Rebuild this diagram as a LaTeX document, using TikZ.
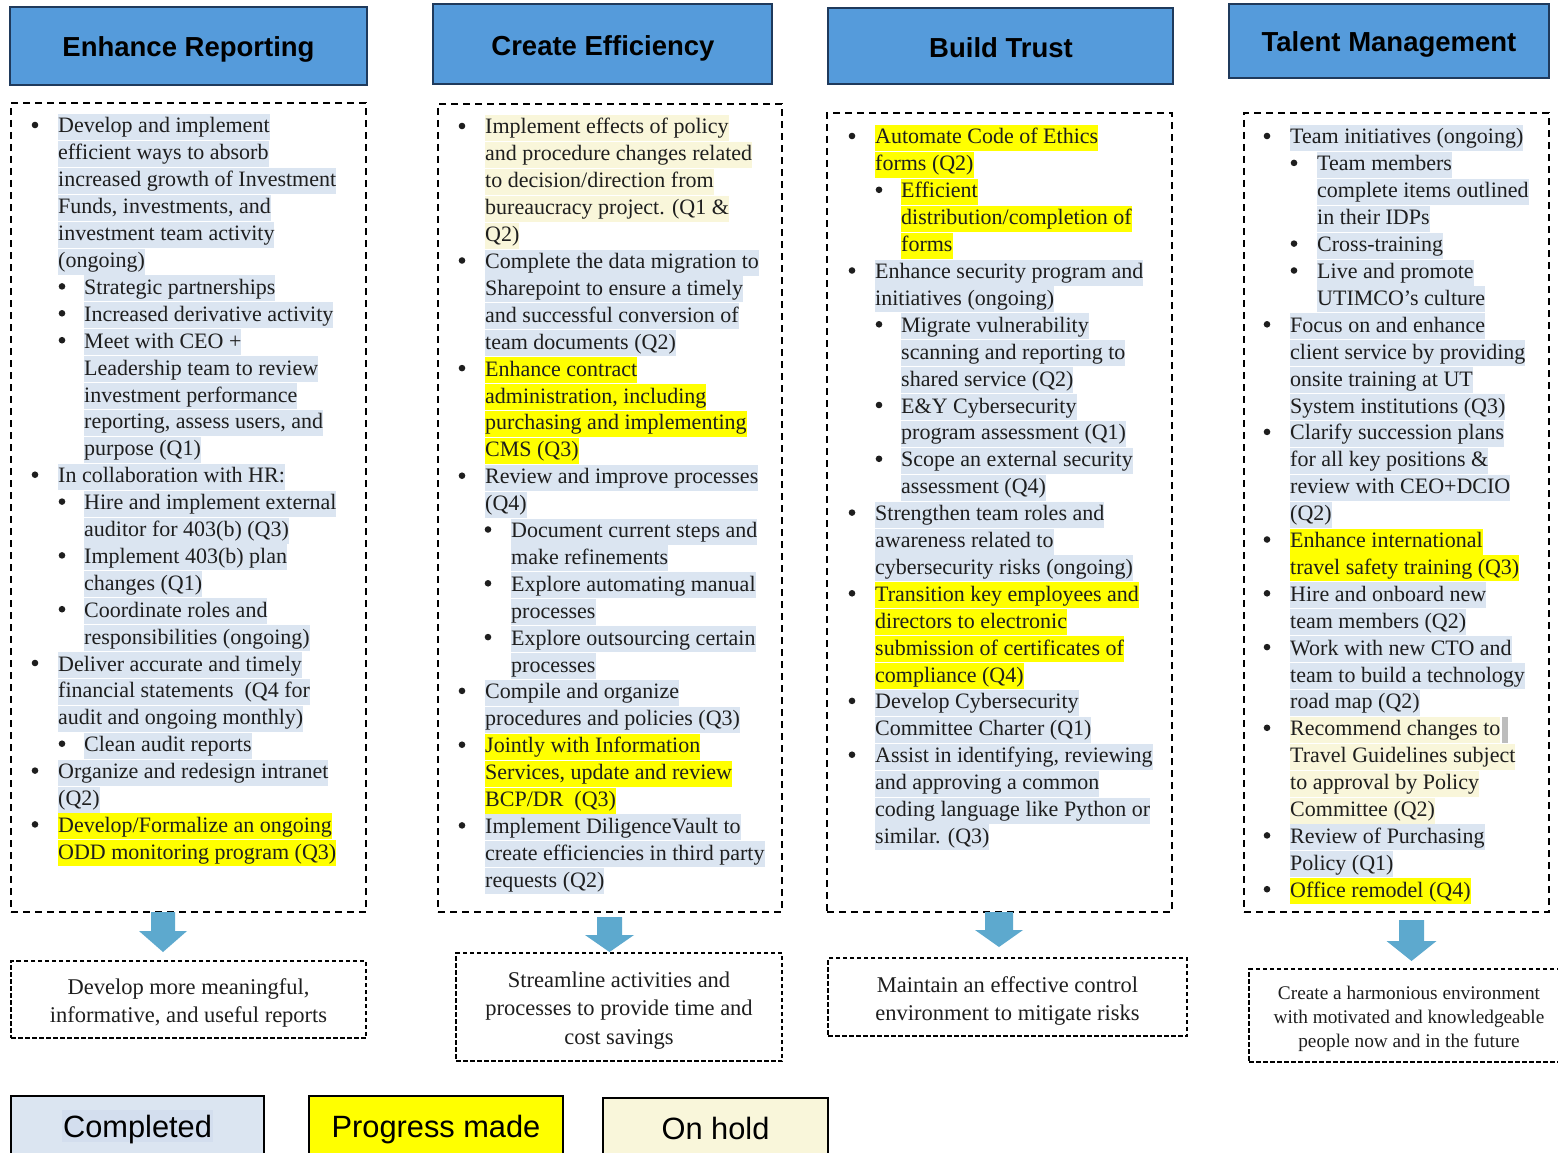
\documentclass[tikz,border=0pt]{standalone}
\usepackage{fontspec}
\setmainfont{Liberation Serif}
\setsansfont{Liberation Sans}
\definecolor{cdone}{HTML}{DBE5F1}
\definecolor{cprog}{HTML}{FFFF00}
\definecolor{chold}{HTML}{F9F6DA}
\definecolor{chdr}{HTML}{559BDB}
\definecolor{chdrb}{HTML}{1F3A5C}
\definecolor{carrow}{HTML}{5DA9CE}
\definecolor{ctext}{HTML}{1E1E1E}
\definecolor{cdonein}{HTML}{D3DEEE}
\definecolor{cgrayblk}{HTML}{BDBDBD}
\newcommand\LN[4]{\node[itemline,#1] (c\colid l#3) at (#2,{\cb+(#3-1)*26.9}) {#4};}
\newcommand\BU[2]{\fill[ctext] (#1,{\cb+(#2-1)*26.9-8}) circle (3.3pt);}
\newcommand\BA[6]{\fill[carrow] (#1-#5,#2) -- (#1+#5,#2) -- (#1+#5,#3) -- (#1+#6,#3) -- (#1,#4) -- (#1-#6,#3) -- (#1-#5,#3) -- cycle;}
\begin{document}
\begin{tikzpicture}[x=1pt,y=-1pt,
  itemline/.style={anchor=base west,inner xsep=0pt,inner ysep=0pt,text height=19pt,text depth=7pt,
     font=\fontsize{22}{26}\selectfont,text=ctext},
  done/.style={fill=cdone},
  prog/.style={fill=cprog},
  hold/.style={fill=chold},
  hdr/.style={draw=chdrb,line width=2.5pt,fill=chdr},
  hdrtext/.style={font=\sffamily\bfseries\fontsize{27.5}{30}\selectfont,text=black,text height=20pt,text depth=0pt,inner sep=0pt},
  dbox/.style={draw=black,line width=1.8pt,dash pattern=on 7pt off 5pt},
  obox/.style={draw=black,line width=1.4pt,dash pattern=on 4.5pt off 2.5pt},
  otext/.style={align=center,text=ctext,inner sep=0pt},
  lgbox/.style={draw=black,line width=1.5pt},
  lgtext/.style={font=\sffamily\fontsize{30.8}{34}\selectfont,text=black,text height=22pt,text depth=0pt}
]
\useasboundingbox (0,0) rectangle (1558,1153);
\clip (0,0) rectangle (1558,1153);
\fill[white] (0,0) rectangle (1558,1153);

% headers
\node[hdr,minimum width=357pt,minimum height=78pt] (h1) at (188.5,46) {};
\node[hdrtext] (h1t) at (188.5,47) {Enhance Reporting};
\node[hdr,minimum width=339pt,minimum height=80pt] (h2) at (602.5,44) {};
\node[hdrtext] (h2t) at (603,46) {Create Efficiency};
\node[hdr,minimum width=345pt,minimum height=76pt] (h3) at (1000.5,46) {};
\node[hdrtext] (h3t) at (1001,48) {Build Trust};
\node[hdr,minimum width=320pt,minimum height=74pt] (h4) at (1389,41) {};
\node[hdrtext] (h4t) at (1389,42) {Talent Management};

% dashed boxes
\node[dbox,minimum width=355pt,minimum height=809pt] (b1) at (188.5,507.5) {};
\node[dbox,minimum width=344pt,minimum height=808pt] (b2) at (610,508) {};
\node[dbox,minimum width=345pt,minimum height=799pt] (b3) at (999.5,512.5) {};
\node[dbox,minimum width=305pt,minimum height=799pt] (b4) at (1396.5,512.5) {};

% ---------------- column 1
\def\colid{1}\def\cb{133}
\BU{35}{1}\LN{done}{58}{1}{Develop and implement\ }
\LN{done}{58}{2}{efficient ways to absorb\ }
\LN{done}{58}{3}{increased growth of Investment\ }
\LN{done}{58}{4}{Funds, investments, and\ }
\LN{done}{58}{5}{investment team activity\ }
\LN{done}{58}{6}{(ongoing)}
\BU{62}{7}\LN{done}{84}{7}{Strategic partnerships}
\BU{62}{8}\LN{done}{84}{8}{Increased derivative activity}
\BU{62}{9}\LN{done}{84}{9}{Meet with CEO +\ }
\LN{done}{84}{10}{Leadership team to review\ }
\LN{done}{84}{11}{investment performance\ }
\LN{done}{84}{12}{reporting, assess users, and\ }
\LN{done}{84}{13}{purpose (Q1)}
\BU{35}{14}\LN{done}{58}{14}{In collaboration with HR:}
\BU{62}{15}\LN{done}{84}{15}{Hire and implement external}
\LN{done}{84}{16}{auditor for 403(b) (Q3)}
\BU{62}{17}\LN{done}{84}{17}{Implement 403(b) plan\ }
\LN{done}{84}{18}{changes (Q1)}
\BU{62}{19}\LN{done}{84}{19}{Coordinate roles and\ }
\LN{done}{84}{20}{responsibilities (ongoing)}
\BU{35}{21}\LN{done}{58}{21}{Deliver accurate and timely\ }
\LN{done}{58}{22}{financial statements\ \ (Q4 for\ }
\LN{done}{58}{23}{audit and ongoing monthly)}
\BU{62}{24}\LN{done}{84}{24}{Clean audit reports}
\BU{35}{25}\LN{done}{58}{25}{Organize and redesign intranet\ }
\LN{done}{58}{26}{(Q2)}
\BU{35}{27}\LN{prog}{58}{27}{Develop/Formalize an ongoing\ }
\LN{prog}{58}{28}{ODD monitoring program (Q3)}

% ---------------- column 2
\def\colid{2}\def\cb{134}
\BU{462}{1}\LN{hold}{485}{1}{Implement effects of policy\ }
\LN{hold}{485}{2}{and procedure changes related\ }
\LN{hold}{485}{3}{to decision/direction from\ }
\LN{hold}{485}{4}{bureaucracy project. (Q1 \&\ }
\LN{hold}{485}{5}{Q2)}
\BU{462}{6}\LN{done}{485}{6}{Complete the data migration to\ }
\LN{done}{485}{7}{Sharepoint to ensure a timely\ }
\LN{done}{485}{8}{and successful conversion of\ }
\LN{done}{485}{9}{team documents (Q2)}
\BU{462}{10}\LN{prog}{485}{10}{Enhance contract\ }
\LN{prog}{485}{11}{administration, including\ }
\LN{prog}{485}{12}{purchasing and implementing\ }
\LN{prog}{485}{13}{CMS (Q3)}
\BU{462}{14}\LN{done}{485}{14}{Review and improve processes\ }
\LN{done}{485}{15}{(Q4)}
\BU{488}{16}\LN{done}{511}{16}{Document current steps and\ }
\LN{done}{511}{17}{make refinements}
\BU{488}{18}\LN{done}{511}{18}{Explore automating manual\ }
\LN{done}{511}{19}{processes}
\BU{488}{20}\LN{done}{511}{20}{Explore outsourcing certain\ }
\LN{done}{511}{21}{processes}
\BU{462}{22}\LN{done}{485}{22}{Compile and organize\ }
\LN{done}{485}{23}{procedures and policies (Q3)}
\BU{462}{24}\LN{prog}{485}{24}{Jointly with Information\ }
\LN{prog}{485}{25}{Services, update and review\ }
\LN{prog}{485}{26}{BCP/DR\ \ (Q3)}
\BU{462}{27}\LN{done}{485}{27}{Implement DiligenceVault to\ }
\LN{done}{485}{28}{create efficiencies in third party}
\LN{done}{485}{29}{requests (Q2)}

% ---------------- column 3
\def\colid{3}\def\cb{144}
\BU{852}{1}\LN{prog}{875}{1}{Automate Code of Ethics\ }
\LN{prog}{875}{2}{forms (Q2)}
\BU{879}{3}\LN{prog}{901}{3}{Efficient\ }
\LN{prog}{901}{4}{distribution/completion of\ }
\LN{prog}{901}{5}{forms}
\BU{852}{6}\LN{done}{875}{6}{Enhance security program and\ }
\LN{done}{875}{7}{initiatives (ongoing)}
\BU{879}{8}\LN{done}{901}{8}{Migrate vulnerability\ }
\LN{done}{901}{9}{scanning and reporting to\ }
\LN{done}{901}{10}{shared service (Q2)}
\BU{879}{11}\LN{done}{901}{11}{E\&Y Cybersecurity\ }
\LN{done}{901}{12}{program assessment (Q1)}
\BU{879}{13}\LN{done}{901}{13}{Scope an external security\ }
\LN{done}{901}{14}{assessment (Q4)}
\BU{852}{15}\LN{done}{875}{15}{Strengthen team roles and\ }
\LN{done}{875}{16}{awareness related to\ }
\LN{done}{875}{17}{cybersecurity risks (ongoing)}
\BU{852}{18}\LN{prog}{875}{18}{Transition key employees and\ }
\LN{prog}{875}{19}{directors to electronic\ }
\LN{prog}{875}{20}{submission of certificates of\ }
\LN{prog}{875}{21}{compliance (Q4)}
\BU{852}{22}\LN{done}{875}{22}{Develop Cybersecurity\ }
\LN{done}{875}{23}{Committee Charter (Q1)}
\BU{852}{24}\LN{done}{875}{24}{Assist in identifying, reviewing\ }
\LN{done}{875}{25}{and approving a common\ }
\LN{done}{875}{26}{coding language like Python or\ }
\LN{done}{875}{27}{similar. (Q3)}

% ---------------- column 4
\def\colid{4}\def\cb{144}
\BU{1267}{1}\LN{done}{1290}{1}{Team initiatives (ongoing)}
\BU{1294}{2}\LN{done}{1317}{2}{Team members\ }
\LN{done}{1317}{3}{complete items outlined\ }
\LN{done}{1317}{4}{in their IDPs}
\BU{1294}{5}\LN{done}{1317}{5}{Cross-training}
\BU{1294}{6}\LN{done}{1317}{6}{Live and promote\ }
\LN{done}{1317}{7}{UTIMCO’s culture}
\BU{1267}{8}\LN{done}{1290}{8}{Focus on and enhance\ }
\LN{done}{1290}{9}{client service by providing\ }
\LN{done}{1290}{10}{onsite training at UT\ }
\LN{done}{1290}{11}{System institutions (Q3)}
\BU{1267}{12}\LN{done}{1290}{12}{Clarify succession plans\ }
\LN{done}{1290}{13}{for all key positions \&\ }
\LN{done}{1290}{14}{review with CEO+DCIO\ }
\LN{done}{1290}{15}{(Q2)}
\BU{1267}{16}\LN{prog}{1290}{16}{Enhance international\ }
\LN{prog}{1290}{17}{travel safety training (Q3)}
\BU{1267}{18}\LN{done}{1290}{18}{Hire and onboard new\ }
\LN{done}{1290}{19}{team members (Q2)}
\BU{1267}{20}\LN{done}{1290}{20}{Work with new CTO and\ }
\LN{done}{1290}{21}{team to build a technology\ }
\LN{done}{1290}{22}{road map (Q2)}
\BU{1267}{23}\LN{hold}{1290}{23}{Recommend changes to}
\fill[cgrayblk] ([xshift=1pt]c4l23.north east) rectangle ([xshift=7pt]c4l23.south east);
\LN{hold}{1290}{24}{Travel Guidelines subject\ }
\LN{hold}{1290}{25}{to approval by Policy\ }
\LN{hold}{1290}{26}{Committee (Q2)}
\BU{1267}{27}\LN{done}{1290}{27}{Review of Purchasing\ }
\LN{done}{1290}{28}{Policy (Q1)}
\BU{1267}{29}\LN{prog}{1290}{29}{Office remodel (Q4)}

% block arrows
\BA{163}{912}{931}{952}{12}{24}
\BA{609.5}{917}{935}{952}{12.5}{24.5}
\BA{999}{912}{930}{947}{14}{24}
\BA{1411.5}{920}{941}{961}{12.5}{25}

% outcome boxes
\node[obox,minimum width=355pt,minimum height=77pt] (o1) at (188.5,999.5) {};
\node[otext,font=\fontsize{22.5}{28}\selectfont] (o1t) at (188.5,1002.5)
  {Develop more meaningful,\\informative, and useful reports};
\node[obox,minimum width=326pt,minimum height=108pt] (o2) at (619,1007) {};
\node[otext,font=\fontsize{22.5}{28.5}\selectfont] (o2t) at (619,1010.5)
  {Streamline activities and\\processes to provide time and\\cost savings};
\node[obox,minimum width=359pt,minimum height=78pt] (o3) at (1007.5,997) {};
\node[otext,font=\fontsize{22.5}{28}\selectfont] (o3t) at (1007.5,1001)
  {Maintain an effective control\\environment to mitigate risks};
\node[obox,minimum width=330pt,minimum height=93pt] (o4) at (1414,1015.5) {};
\node[otext,font=\fontsize{19.3}{24}\selectfont] (o4t) at (1409,1019)
  {Create a harmonious environment\\with motivated and knowledgeable\\people now and in the future};

% legend
\node[lgbox,fill=cdone,minimum width=253pt,minimum height=60pt] (lg1) at (137.5,1126) {};
\node[lgtext,fill=cdonein,inner xsep=1pt,inner ysep=5pt] (lg1t) at (137.5,1126) {Completed};
\node[lgbox,fill=cprog,minimum width=254pt,minimum height=60pt] (lg2) at (436,1126) {};
\node[lgtext,inner sep=0pt] (lg2t) at (436,1126) {Progress made};
\node[lgbox,fill=chold,minimum width=225pt,minimum height=60pt] (lg3) at (715.5,1128) {};
\node[lgtext,inner sep=0pt] (lg3t) at (715.5,1128) {On hold};
\end{tikzpicture}
\end{document}
